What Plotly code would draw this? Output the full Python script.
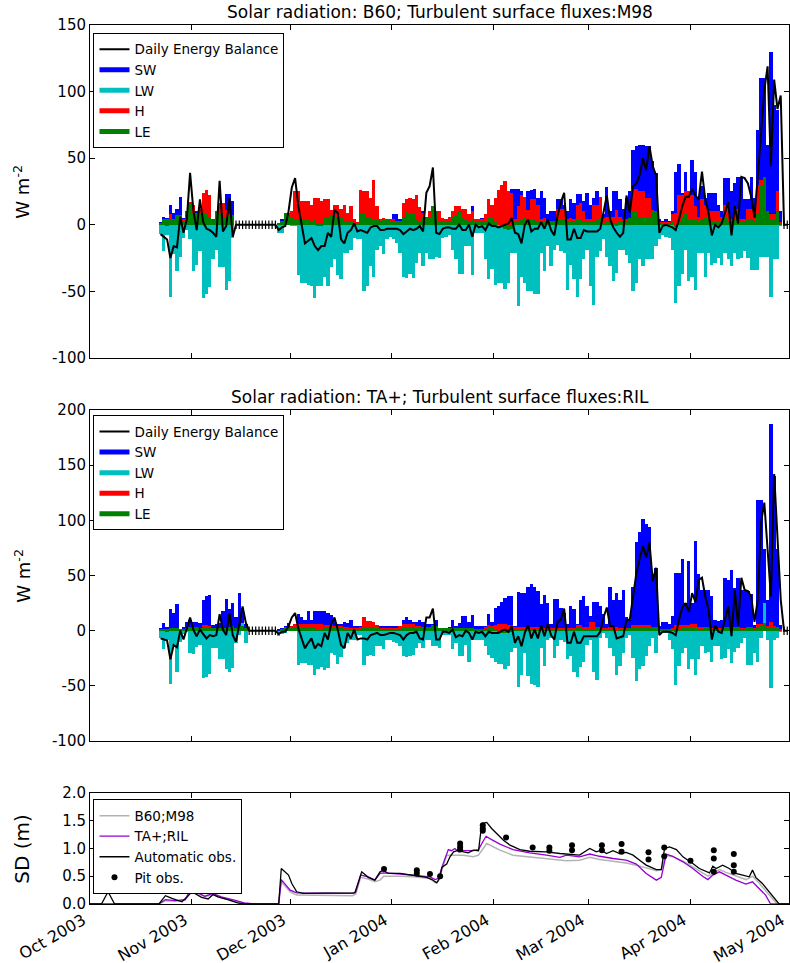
import numpy as np
import pandas as pd
import plotly.graph_objects as go

season_start = pd.Timestamp('2003-10-01')
first_day = '2003-10-22'  # first day of the daily flux series (runs to 30 Apr 2004)

month_ticks = ['2003-10-01', '2003-11-01', '2003-12-01', '2004-01-01',
               '2004-02-01', '2004-03-01', '2004-04-01', '2004-05-01']
month_labels = ['Oct 2003', 'Nov 2003', 'Dec 2003', 'Jan 2004',
                'Feb 2004', 'Mar 2004', 'Apr 2004', 'May 2004']

flux_ticks_top = [-100, -50, 0, 50, 100, 150]
flux_ticks_mid = [-100, -50, 0, 50, 100, 150, 200]
sd_ticks = [0, 0.5, 1.0, 1.5, 2.0]

# ---- run 1: solar B60, turbulent M98 (W m-2)
b60_sw = [2, 6, 5, 15, 9, 12, 21, 5, 2, 17, 12, 10, 3, 24, 20, 22, 3, 8, 10, 16, 23, 23, 18,
          0, 0, 0, 0, 0, 0, 0, 0, 0, 0, 0, 0, 0,
          1, 4, 3, 3, 5, 8, 8, 6, 6, 6, 6, 6, 6, 6, 6, 5, 5, 5, 5, 5, 4, 4, 4, 3, 2,
          4, 5, 5, 5, 5, 4, 3, 3, 3, 4, 8, 8, 4, 6, 6, 6, 6, 6, 12, 10, 6, 6, 6, 6,
          4, 3, 3, 4, 10, 6, 5, 6, 5, 5,
          14, 4, 4, 5, 6, 8, 10, 12, 14, 16,
          18, 20, 27, 27, 27, 25, 20, 25, 26, 27,
          20, 25, 20, 8, 10, 10, 19, 19, 15, 10,
          19, 16, 23, 23, 18, 24, 15, 20, 25, 18,
          8, 28, 10, 25, 25, 19, 12, 20, 25, 56,
          59, 60, 60, 59, 59, 48, 39, 4, 3, 4,
          3, 10, 40, 46, 24, 40, 24, 49, 40, 20,
          29, 20, 24, 24, 24, 15, 10, 35, 35, 25,
          31, 36, 36, 19, 19, 36, 20, 71, 110, 110,
          60, 130, 90, 86, 10,
          0, 0]
b60_lw = [-7, -20, -8, -54, -22, -35, -24, -10, -4, -11, -35, -30, -20, -55, -52, -47, -26, -19,
          -32, -32, -49, -42, -10,
          0, 0, 0, 0, 0, 0, 0, 0, 0, 0, 0, 0, 0,
          -6, -6, 0, 0, -1, -1, -38, -44, -44, -45, -46, -55, -46, -46, -39, -46, -32, -26, -38,
          -41, -21, -21, -19, -10, -11, -11, -50, -46, -31, -39, -19, -16, -22, -11, -9, -11,
          -14, -21, -39, -40, -37, -40, -29, -21, -31, -21, -26, -26, -24,
          -25, -10, -9, -8, -19, -26, -37, -37, -16, -16,
          -38, -6, -6, -6, -26, -41, -33, -45, -44, -44,
          -48, -44, -21, -21, -61, -39, -44, -50, -50, -52,
          -52, -21, -35, -16, -31, -19, -15, -20, -21, -49,
          -30, -41, -54, -41, -26, -19, -46, -60, -24, -20,
          -11, -24, -31, -42, -36, -19, -19, -23, -29, -50,
          -44, -26, -31, -26, -26, -26, -16, -11, -8, -9,
          -10, -19, -59, -46, -37, -19, -42, -39, -49, -21,
          -21, -39, -21, -30, -29, -25, -30, -21, -26, -31,
          -21, -26, -25, -20, -25, -34, -34, -34, -24, -24,
          -24, -54, -26, -26, -1,
          0, 0]
b60_h = [1, 4, -1, 8, 4, 4, 2, 4, 3, 17, 15, 8, 12, 24, 26, 22, 2, 10, 16, 16, 11, 8, 4,
         0, 0, 0, 0, 0, 0, 0, 0, 0, 0, 0, 0, 0,
         1, 2, 3, 5, 10, 25, 25, 18, 18, 18, 15, 20, 20, 18, 19, 19, 11, 15, 15, 12, 15, 9, 14,
         4, 2, 26, 25, 25, 20, 34, 14, 4, 5, 2, 4, 4, 3, 3, 16, 19, 20, 19, 22, 13, 9, 6, 10, 14, 10,
         10, 5, 4, 6, 10, 14, 14, 12, 12, 8,
         10, 4, 4, 4, 8, 19, 15, 20, 26, 30,
         33, 25, 24, 4, 14, 22, 21, 11, 19, 19,
         15, 4, 5, 3, 3, 3, 12, 12, 12, 4,
         5, 4, 15, 16, 10, 4, 4, 15, 15, 21,
         5, 6, 6, 6, 11, 6, 4, 4, 4, 27,
         27, 25, 25, 20, 20, 11, 5, 2, 2, 2,
         2, 8, 9, 22, 22, 25, 25, 22, 14, 6,
         19, 15, 10, 10, 10, 10, 6, 15, 15, 4,
         12, 12, 4, 4, 12, 12, 5, 30, 34, 34,
         8, 8, 8, 25, 2,
         0, 0]
b60_le = [1, 4, 4, 4, 4, 7, 7, 3, 10, 16, 9, 9, 9, 9, 9, 5, 4, 10, 9, 6, 6, 7, 7,
          0, 0, 0, 0, 0, 0, 0, 0, 0, 0, 0, 0, 0,
          1, 3, 9, 9, 5, 4, 4, 4, 4, 4, 3, 4, -1, -1, 6, 6, 7, 8, 5, 5, 3, 3, 2, 1, 1,
          9, 9, 6, 6, 4, 4, 2, 4, 4, 2, 2, 2, 3, 6, 10, 8, 8, 4, 3, 6, 6, 5, 14, 10,
          2, 2, 2, 3, 5, 7, 10, 6, 4, 3,
          4, 2, 2, 2, 3, 6, 5, 2, 0, -2,
          -3, -4, -3, 2, 3, 4, 5, 3, 4, 4,
          3, 2, 2, 1, 2, 3, 4, 4, 4, 2,
          2, 2, 4, 4, 3, 3, 2, 2, 4, 6,
          1, 2, 2, 1, -1, 2, 2, 3, 5, 10,
          10, 6, 6, 6, 5, 10, 10, 1, 1, 0,
          1, 3, -2, 3, 6, 8, 4, 4, 4, 2,
          4, 6, 4, 2, 3, 2, 2, 5, 3, 2,
          4, 4, 2, 2, 4, 4, 2, 8, 29, 36,
          10, 4, 4, 10, 1,
          0, 0]
b60_eb = [-7, -9, -11, -25, -16, -17, 6, -6, 4, 39, 11, -4, 19, 2, -3, -4, -6, -9, 33, -5, -1, 20, -9,
          0, 0, 0, 0, 0, 0, 0, 0, 0, 0, 0, 0, 0,
          -4, -2, -1, 10, 28, 35, 14, -1, -14, -12, -10, -16, -19, -16, -16, -6, -9, 11, 9, -11,
          -14, -6, -4, 1, -5, -4, -5, -6, -2, -1, -1, -4, -4, -3, -3, -3, -3, -4, -7, -5, -3, -4,
          -3, -1, -5, 24, 29, 43, -6,
          -7, -3, -2, -2, -3, -3, 0, -4, -4, 0,
          -9, 0, -2, -1, -4, 1, -1, -1, -2, -1,
          0, 1, 5, -6, -7, -14, 0, 4, -5, -3,
          -3, 2, -3, 4, -4, -8, 7, 17, 24, -11,
          -11, -3, -10, -10, -4, -5, -5, -5, -5, -3,
          11, 22, 4, -2, -6, -9, -6, 22, 9, 29,
          31, 37, 50, 41, 59, 44, 37, -6, -1, 0,
          -1, -2, -4, 4, 14, 21, 21, 27, 22, 19,
          40, 19, 9, -8, 0, -2, 1, 9, 17, -8,
          14, 1, 36, 35, 31, 21, 6, 36, 71, 101,
          119, 44, 109, 87, 97,
          0, 0]

# ---- run 2: solar TA+, turbulent RIL (W m-2)
ta_sw = [2, 7, 3, 20, 16, 24, 1, 3, 8, 10, 8, 8, 7, 28, 31, 32, 5, 6, 7, 18, 29, 20, 25, 12, 34, 21, 6,
         0, 0, 0, 0, 0, 0, 0, 0, 0,
         1, 2, 4, 7, 3, 2, 15, 12, 10, 18, 10, 18, 18, 18, 18, 16, 14, 11, 6, 6, 8, 7, 10, 4, 4,
         4, 12, 7, 7, 5, 5, 4, 4, 4, 4, 4, 4, 4, 10, 12, 10, 8, 8, 10, 8, 6, 6, 6, 10,
         2, 2, 2, 3, 10, 4, 7, 13, 13, 8,
         14, 4, 4, 4, 4, 15, 8, 21, 22, 26,
         30, 31, 31, 4, 35, 34, 34, 40, 42, 40,
         36, 24, 32, 25, 6, 29, 29, 21, 16, 6,
         22, 20, 6, 28, 31, 22, 13, 26, 26, 22,
         15, 6, 40, 28, 34, 28, 37, 12, 10, 40,
         80, 89, 101, 97, 94, 51, 57, 4, 8, 8,
         6, 13, 52, 52, 65, 25, 63, 25, 81, 51,
         37, 37, 37, 31, 10, 9, 10, 48, 46, 55,
         39, 48, 37, 37, 36, 33, 5, 118, 118, 74,
         28, 187, 140, 74, 5,
         0, 0]
ta_lw = [-7, -17, -8, -48, -14, -37, -10, -3, -1, -20, -21, -15, -13, -43, -42, -39, -16, -16, -26,
         -26, -35, -37, -34, -11, -4, 7, -11,
         0, 0, 0, 0, 0, 0, 0, 0, 0,
         -5, -3, -2, 0, 0, 0, -31, -29, -29, -31, -31, -40, -35, -33, -36, -34, -20, -22, -30, -24,
         -16, -11, -8, -8, -4, -4, -31, -23, -22, -23, -14, -14, -17, -8, -8, -10, -11, -14, -23,
         -24, -23, -22, -16, -11, -16, -8, -8, -14, -14,
         -16, -4, -4, -4, -17, -11, -23, -23, -13, -28,
         -8, -8, -8, -8, -14, -22, -25, -28, -30, -30,
         -35, -32, -19, -16, -51, -40, -20, -41, -48, -49,
         -51, -16, -32, -8, -7, -25, -14, -8, -10, -26,
         -23, -37, -42, -33, -28, -13, -8, -37, -45, -7,
         -2, -7, -16, -23, -40, -32, -20, -7, -4, -25,
         -46, -35, -32, -23, -14, -7, -20, -2, -2, -2,
         -8, -17, -49, -32, -20, -16, -35, -26, -40, -26,
         -14, -20, -19, -28, -14, -14, -26, -25, -17, -29,
         -19, -16, -11, -7, -31, -31, -20, -28, -7, 25,
         -8, -52, -8, -7, -1,
         0, 0]
ta_h = [1, 1, -1, 2, 2, 2, 1, 1, 2, 2, 3, 3, 2, 5, 5, 4, 2, 2, 2, 2, 2, 2, 2, 1, 2, 3, 1,
        0, 0, 0, 0, 0, 0, 0, 0, 0,
        0, 1, 1, 2, 4, 6, 6, 6, 6, 6, 6, 6, 6, 6, 5, 5, 5, 4, 4, 4, 3, 3, 2, 2, 2,
        3, 12, 9, 9, 8, 5, 2, 2, 2, 2, 2, 2, 4, 6, 6, 6, 6, 4, 4, 3, 3, 3, 4, 3,
        2, 1, 1, 1, 2, 2, 2, 2, 2, 1,
        2, 1, 1, 1, 3, 5, 4, 5, 6, 6,
        6, 5, 5, 3, 3, 3, 3, 3, 3, 3,
        3, 3, 2, 2, 2, 2, 2, 2, 2, 2,
        2, 2, 5, 5, 3, 3, 8, 8, 3, 3,
        2, 2, 3, 3, 3, 2, 2, 2, 2, 5,
        5, 5, 5, 5, 5, 3, 3, 1, 1, 1,
        1, 2, 5, 5, 5, 5, 5, 6, 6, 3,
        3, 3, 3, 2, 2, 2, 2, 3, 3, 2,
        3, 3, 2, 2, 3, 3, 2, 6, 6, 5,
        4, 8, 4, 3, 1,
        0, 0]
ta_le = [1, 1, 1, 2, 2, 2, 1, 1, 2, 3, 3, 2, 2, 3, 3, 3, 2, 2, 2, 2, 2, 3, 4, 2, 4, 4, 2,
         0, 0, 0, 0, 0, 0, 0, 0, 0,
         0, 1, 3, 3, 2, 2, 2, 2, 2, 2, 2, 2, 1, 1, 2, 2, 2, 2, 2, 2, 1, 1, 1, 1, 1,
         1, 3, 3, 3, 2, 2, 1, 1, 1, 1, 1, 1, 1, 2, 3, 3, 3, 2, 2, 2, 2, 2, 5, 4,
         2, 2, 2, 2, 2, 2, 2, 2, 2, 2,
         2, 1, 1, 1, 1, 2, 2, 1, -2, -2,
         -2, -2, -1, 1, 1, 1, 1, 1, 1, 1,
         1, 1, 1, 1, 1, 1, 1, 1, 1, 1,
         1, 1, 2, 2, 1, 1, 1, 1, 2, 2,
         1, 1, 1, 1, 0, 1, 1, 1, 2, 3,
         3, 3, 3, 2, 2, 2, 2, 1, 1, 1,
         1, 1, -1, 1, 2, 2, 2, 2, 2, 1,
         1, 2, 2, 1, 1, 1, 1, 2, 2, 1,
         2, 2, 1, 1, 2, 2, 1, 3, 5, 7,
         3, 2, 2, 2, 0,
         0, 0]
ta_eb = [-7, -8, -9, -26, -13, -15, 0, -8, 1, 12, 1, -5, 1, -3, -7, -4, -5, -4, 15, 1, -4, 16, -4,
         -10, 5, 22, 7,
         0, 0, 0, 0, 0, 0, 0, 0, 0,
         -3, -1, -1, 4, 12, 16, 2, -7, -16, -11, -7, -16, -12, -14, -2, -8, 6, 12, 1, -13, -16,
         -2, -7, 1, -8, -7, -7, -8, -4, -3, -2, -4, -4, -3, -2, -2, -3, -4, -8, -4, -2, -2, -1,
         -7, -8, 12, 12, 20, -8,
         -8, -1, -1, -2, 1, -6, -4, -5, 0, -2,
         -8, -1, -2, -1, -5, -1, -2, -2, -2, 0,
         1, -1, 4, -11, -5, -14, -2, 5, -7, 1,
         -7, 5, -5, 6, -4, -8, 8, 10, 20, -11,
         -11, -1, -11, -11, -5, -5, -5, -5, -5, -1,
         12, 21, 4, 4, -7, -6, -5, 10, 10, 31,
         52, 65, 77, 66, 80, 45, 57, -4, -1, -1,
         -1, -2, -4, 10, 21, 25, 17, 34, 26, 46,
         48, 31, 19, -8, 5, -1, -2, 10, 22, -5,
         37, 4, 48, 37, 36, 31, 8, 28, 98, 116,
         77, 31, 142, 83, 28,
         0, 0]

# ---- snow depth (m); days counted from 1 Oct 2003
auto_days = [0, 3.5, 5.5, 7.5, 21, 23, 25, 28, 29.5, 31, 34, 36, 37.5, 39, 42, 45, 47, 57.5, 58.3,
             60.5, 61.5, 63, 65, 75, 80.7, 82.8, 84.8, 86.8, 88.4, 89.4, 90.9, 94.5, 98.5, 100.6,
             102.6, 104.2, 105.7, 106.7, 107.2, 108.7, 109.7, 110.8, 112.3, 113.8, 115.3, 116.8,
             118.4, 119.4, 120.9, 122.4, 124, 126, 128, 131, 134, 139, 143.2, 145.2, 149.2, 152.3,
             154.3, 155.8, 157.4, 159.4, 161.4, 163.4, 165.5, 167.5, 169.5, 172.6, 174.1, 175.1,
             176.6, 178.7, 180.7, 183.7, 185.7, 188.8, 189.8, 190.8, 192.8, 194.8, 196.8, 198.9,
             200.9, 201.9, 202.9, 204.9, 206.9, 209, 210, 213]
auto_sd = [0, 0, 0.22, 0, 0, 0.15, 0.10, 0.04, 0.12, 0.22, 0.12, 0.09, 0.17, 0.13, 0.08, 0.02, 0, 0,
           0.64, 0.52, 0.37, 0.22, 0.19, 0.19, 0.20, 0.58, 0.48, 0.43, 0.58, 0.61, 0.55, 0.55, 0.52,
           0.50, 0.48, 0.44, 0.38, 0.48, 0.66, 0.72, 0.85, 0.94, 0.97, 0.94, 0.92, 0.97, 0.96, 1.45,
           1.47, 1.36, 1.27, 1.15, 1.06, 0.98, 0.95, 0.94, 0.91, 0.90, 0.88, 1.00, 0.94, 0.97, 0.91,
           0.96, 0.91, 0.93, 0.88, 0.79, 0.70, 0.62, 0.62, 1.00, 1.03, 0.98, 0.85, 0.73, 0.64, 0.56,
           0.68, 0.64, 0.70, 0.64, 0.55, 0.52, 0.49, 0.61, 0.48, 0.37, 0.22, 0.07, 0, 0]
ta_days = [0, 21, 23, 26, 29, 31, 33, 35, 37.5, 40, 44, 47, 50, 57.5, 58.3, 61, 63, 80, 81, 82.5,
           84.8, 86.8, 88.4, 89.5, 94.5, 98.5, 103.6, 105.2, 106.2, 107.7, 109.2, 110.2, 111.2,
           112.3, 113.8, 116.8, 118.4, 119.4, 120.7, 122.4, 124.9, 128.9, 134, 139.1, 143.2, 145.2,
           149.2, 152.3, 155.3, 159.4, 163.4, 166.5, 169.5, 172.6, 174.1, 175.6, 177.6, 180.7,
           183.7, 186.7, 188.3, 189.8, 191.8, 193.8, 196.8, 199.9, 201.9, 203.9, 205.9, 207.4, 213]
ta_sd = [0, 0, 0.08, 0.06, 0.08, 0.30, 0.20, 0.14, 0.19, 0.13, 0.07, 0.02, 0, 0, 0.44, 0.25, 0.20,
         0.19, 0.22, 0.52, 0.49, 0.43, 0.55, 0.56, 0.54, 0.52, 0.49, 0.44, 0.46, 0.74, 0.98, 0.96,
         1.00, 0.94, 0.96, 0.96, 0.98, 1.09, 1.22, 1.16, 1.08, 0.98, 0.92, 0.88, 0.84, 0.88, 0.85,
         0.90, 0.86, 0.82, 0.79, 0.72, 0.55, 0.43, 0.48, 0.90, 0.86, 0.76, 0.64, 0.50, 0.44, 0.52,
         0.58, 0.52, 0.43, 0.36, 0.40, 0.28, 0.16, 0, 0]
b60_days = [0, 21, 23, 26, 29, 31, 33, 35, 37.5, 40, 44, 47, 49, 57.5, 58.3, 61, 63, 80, 81, 82.5,
            84.8, 86.8, 88.4, 89.5, 94.5, 98.5, 103.6, 105.2, 106.2, 108.7, 111.2, 113.8, 116.8,
            118.4, 120.9, 124.9, 128.9, 134, 139.1, 143.2, 145.2, 149.2, 152.3, 155.3, 159.4, 163.4,
            166.5, 169.5, 172.6, 174.1, 175.6, 177.6, 180.7, 183.7, 186.7, 188.3, 189.8, 191.8,
            193.8, 196.8, 199.9, 201.9, 203.9, 205.9, 207.9, 209.4, 213]
b60_sd = [0, 0, 0.06, 0.05, 0.07, 0.27, 0.18, 0.13, 0.17, 0.11, 0.05, 0.01, 0, 0, 0.40, 0.22, 0.16,
          0.15, 0.18, 0.48, 0.45, 0.40, 0.43, 0.50, 0.50, 0.49, 0.46, 0.38, 0.42, 0.88, 0.88, 0.88,
          0.85, 0.88, 1.09, 0.97, 0.88, 0.85, 0.82, 0.80, 0.78, 0.79, 0.84, 0.80, 0.77, 0.74, 0.70,
          0.65, 0.60, 0.62, 0.88, 0.85, 0.77, 0.67, 0.56, 0.50, 0.55, 0.62, 0.57, 0.50, 0.44, 0.50,
          0.38, 0.24, 0.10, 0, 0]
pit_days = [89.6, 99.6, 99.6, 103.6, 106.7, 112.8, 112.8, 112.8, 119.7, 119.7, 119.7, 126.8, 134.9,
            140, 140, 146.9, 146.9, 156, 156, 162, 162, 170.2, 170.2, 175, 175, 183, 190.1, 190.1,
            190.1, 196.2, 196.2, 196.2]
pit_sd = [0.63, 0.61, 0.55, 0.54, 0.50, 1.09, 1.03, 0.98, 1.42, 1.36, 1.32, 1.20, 1.02, 1.02, 0.96,
          1.06, 0.97, 1.06, 0.97, 1.08, 0.94, 0.93, 0.80, 1.02, 0.86, 0.78, 0.97, 0.82, 0.58, 0.90,
          0.70, 0.58]

for s in [b60_lw, b60_h, b60_le, b60_eb, ta_sw, ta_lw, ta_h, ta_le, ta_eb]:
    assert len(s) == len(b60_sw), len(s)

days = pd.date_range(first_day, periods=len(b60_sw), freq='D') + pd.Timedelta(hours=12)
one_day = 86400000


def to_dates(offsets):
    return season_start + pd.to_timedelta(np.array(offsets), unit='D')


FONT = 'DejaVu Sans'
flux_colors = {'SW': '#0000ff', 'LW': '#00bfbf', 'H': '#ff0000', 'LE': '#008000'}

fig = go.Figure()


def add_flux_panel(fig, sw, lw, h, le, eb, xa, ya, legend):
    for name, vals in [('SW', sw), ('LW', lw), ('H', h), ('LE', le)]:
        vals = [v if v != 0 else None for v in vals]
        fig.add_trace(go.Bar(x=days, y=vals, width=one_day, marker=dict(color=flux_colors[name], line_width=0),
                             showlegend=False, hoverinfo='skip', xaxis=xa, yaxis=ya))
    fig.add_trace(go.Scatter(x=days, y=eb, mode='lines', line=dict(color='black', width=2),
                             name='Daily Energy Balance', legend=legend, xaxis=xa, yaxis=ya))
    # days without model output: zero line with tick marks
    empty = [d for d, a, b, c, e in zip(days, sw, lw, h, le) if a == 0 and b == 0 and c == 0 and e == 0]
    fig.add_trace(go.Scatter(x=empty, y=[0] * len(empty), mode='markers', showlegend=False,
                             marker=dict(symbol='line-ns-open', size=6, color='black',
                                         line=dict(width=1.2, color='black')),
                             xaxis=xa, yaxis=ya))
    for name in ['SW', 'LW', 'H', 'LE']:
        fig.add_trace(go.Scatter(x=[None], y=[None], mode='lines', name=name, legend=legend,
                                 line=dict(color=flux_colors[name], width=5), xaxis=xa, yaxis=ya))


add_flux_panel(fig, b60_sw, b60_lw, b60_h, b60_le, b60_eb, 'x', 'y', 'legend')
add_flux_panel(fig, ta_sw, ta_lw, ta_h, ta_le, ta_eb, 'x2', 'y2', 'legend2')

fig.add_trace(go.Scatter(x=to_dates(b60_days), y=b60_sd, mode='lines', name='B60;M98',
                         line=dict(color='#b3b3b3', width=1.5), legend='legend3', xaxis='x3', yaxis='y3'))
fig.add_trace(go.Scatter(x=to_dates(ta_days), y=ta_sd, mode='lines', name='TA+;RIL',
                         line=dict(color='#9400d3', width=1.3), legend='legend3', xaxis='x3', yaxis='y3'))
fig.add_trace(go.Scatter(x=to_dates(auto_days), y=auto_sd, mode='lines', name='Automatic obs.',
                         line=dict(color='black', width=1.3), legend='legend3', xaxis='x3', yaxis='y3'))
fig.add_trace(go.Scatter(x=to_dates(pit_days), y=pit_sd, mode='markers', name='Pit obs.',
                         marker=dict(color='black', size=6), legend='legend3', xaxis='x3', yaxis='y3'))

axis_common = dict(showline=True, linecolor='black', linewidth=1, mirror='allticks', ticks='inside',
                   ticklen=5, tickcolor='black', showgrid=False, zeroline=False, automargin=False,
                   tickfont=dict(family=FONT, size=15, color='black'))
x_common = dict(axis_common, type='date', range=['2003-10-01', '2004-05-01 00:30'],
                tickvals=month_ticks, ticktext=month_labels)

legend_common = dict(x=0.005, xanchor='left', yanchor='top', bgcolor='white', bordercolor='black',
                     borderwidth=1, itemwidth=30, font=dict(family=FONT, size=13.5, color='black'))

fig.update_layout(
    width=790, height=963,
    margin=dict(l=90, r=1, t=25, b=59, autoexpand=False),
    plot_bgcolor='white', paper_bgcolor='white',
    barmode='overlay', bargap=0,
    font=dict(family=FONT, color='black'),
    xaxis=dict(x_common, anchor='y', showticklabels=False),
    yaxis=dict(axis_common, domain=[0.6212, 1.0], range=[-100, 150], anchor='x',
               tickvals=flux_ticks_top, ticktext=[str(v) for v in flux_ticks_top]),
    xaxis2=dict(x_common, anchor='y2', showticklabels=False),
    yaxis2=dict(axis_common, domain=[0.1854, 0.5620], range=[-100, 200], anchor='x2',
                tickvals=flux_ticks_mid, ticktext=[str(v) for v in flux_ticks_mid]),
    xaxis3=dict(x_common, anchor='y3', tickangle=-30, ticklabelshift=-7, ticklabeloverflow='allow',
                tickfont=dict(family=FONT, size=16, color='black')),
    yaxis3=dict(axis_common, domain=[0, 0.1263], range=[0, 2.0], anchor='x3',
                tickvals=sd_ticks, ticktext=['%.1f' % v for v in sd_ticks]),
    legend=dict(legend_common, y=0.991),
    legend2=dict(legend_common, y=0.556),
    legend3=dict(legend_common, y=0.119),
)

titles = [('Solar radiation: B60; Turbulent surface fluxes:M98', 1.0),
          ('Solar radiation: TA+; Turbulent surface fluxes:RIL', 0.5620)]
for text, ytop in titles:
    fig.add_annotation(text=text, x=0.5, y=ytop, xref='paper', yref='paper', xanchor='center',
                       yanchor='bottom', yshift=1, showarrow=False,
                       font=dict(family=FONT, size=17, color='black'))

for text, ymid, size in [('W m<sup>-2</sup>', (0.6212 + 1.0) / 2, 18),
                         ('W m<sup>-2</sup>', (0.1854 + 0.5620) / 2, 18),
                         ('SD (m)', 0.1263 / 2, 20)]:
    fig.add_annotation(text=text, x=-0.097, y=ymid, xref='paper', yref='paper', xanchor='center',
                       yanchor='middle', textangle=-90, showarrow=False,
                       font=dict(family=FONT, size=size, color='black'))

# page body has a default 8px margin; drop it so the figure sits at the window corner
fig.write_html('out.html', config={'displayModeBar': False},
               post_script="document.body.style.margin = '0px';")
